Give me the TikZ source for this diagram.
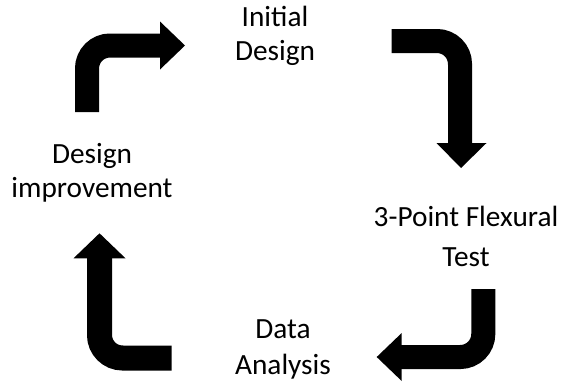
\documentclass[tikz,border=0pt]{standalone}
\usepackage{fontspec}
\setmainfont{Carlito}
\begin{document}
\begin{tikzpicture}[x=1bp,y=-1bp,
  bentbar/.style={line width=24bp,rounded corners=23bp},
  headtip/.style={fill=black},
  label/.style={align=center,inner sep=0pt,anchor=base,text=black},
  stepfont/.style={font=\fontsize{29.3bp}{#1}\selectfont}]
\useasboundingbox (0,0) rectangle (568,385);

% stage labels (placed at the baseline of their last line)
\node[label,stepfont=33.5bp] (initial) at (275,60) {Initial\\Design};
\node[label,stepfont=40bp] (test) at (466,266.7) {3-Point Flexural\\Test};
\node[label,stepfont=36.5bp] (analysis) at (283,374.5) {Data\\Analysis};
\node[label,stepfont=34bp] (improve) at (92,197) {Design\\improvement};

% arrow: design improvement -> initial design
\coordinate (a1s) at (87,112);
\coordinate (a1c) at (87,45.5);
\coordinate (a1h) at (161,45.5);
\draw[bentbar] (a1s) -- (a1c) -- (a1h);
\fill[headtip] (160,21.5) -- (185,45.5) -- (160,69.5) -- cycle;

% arrow: initial design -> flexural test
\coordinate (a2s) at (391.7,41);
\coordinate (a2c) at (460,41);
\coordinate (a2h) at (460,144);
\draw[bentbar] (a2s) -- (a2c) -- (a2h);
\fill[headtip] (436.5,143) -- (486.5,143) -- (461,168) -- cycle;

% arrow: flexural test -> data analysis
\coordinate (a3s) at (483.3,289);
\coordinate (a3c) at (483.3,357);
\coordinate (a3h) at (400.7,357);
\draw[bentbar] (a3s) -- (a3c) -- (a3h);
\fill[headtip] (401.7,333) -- (401.7,381) -- (376.7,357) -- cycle;

% arrow: data analysis -> design improvement
\coordinate (a4s) at (171.7,358);
\coordinate (a4c) at (99.5,358);
\coordinate (a4h) at (99.5,257.3);
\draw[bentbar,line width=25bp] (a4s) -- (a4c) -- (a4h);
\fill[headtip] (73.5,258.3) -- (125.5,258.3) -- (99.5,233.3) -- cycle;
\end{tikzpicture}
\end{document}
